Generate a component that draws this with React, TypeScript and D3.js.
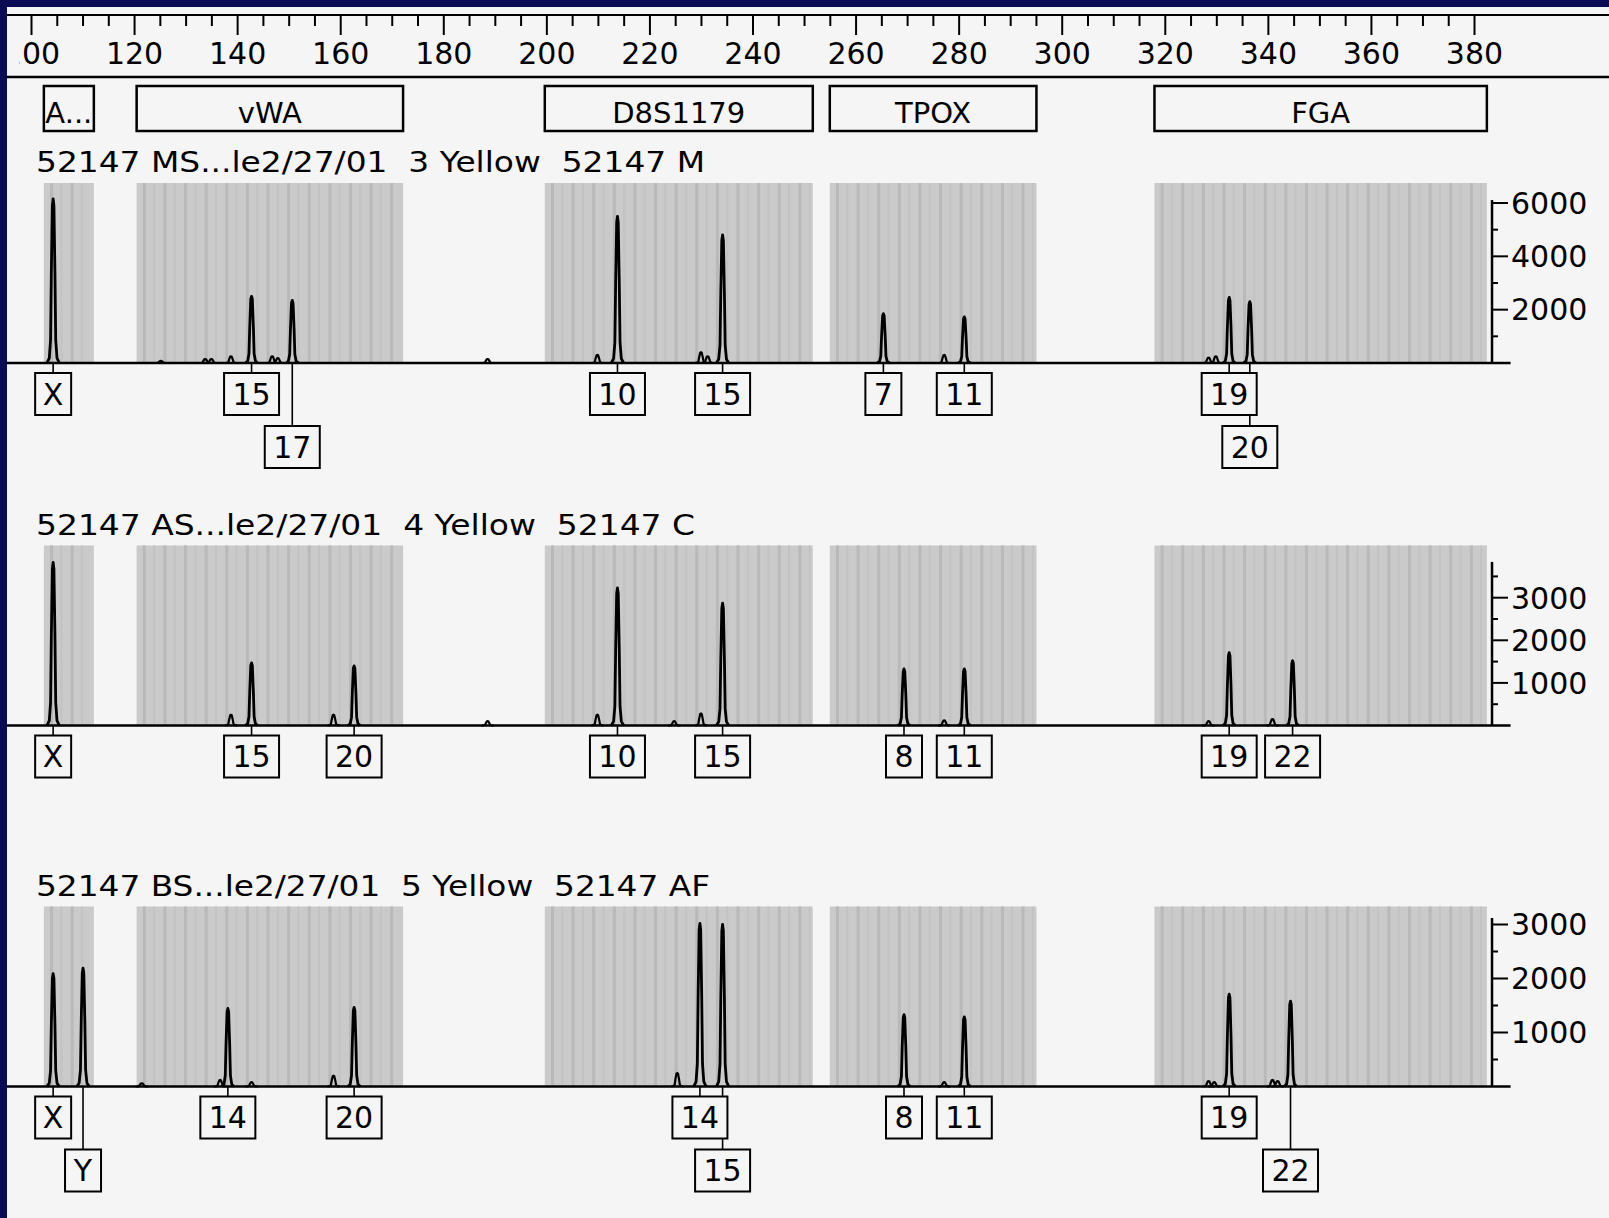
import React from "react";
import * as d3 from "d3";

// fragment size axis (bp)
const sizeLabels = [100, 120, 140, 160, 180, 200, 220, 240, 260, 280, 300, 320, 340, 360, 380];

// marker bins
const markerNames = ["A...", "vWA", "D8S1179", "TPOX", "FGA"];
const markerStart = [102.4, 120.4, 199.6, 254.9, 317.9];
const markerEnd = [112.1, 172.1, 251.6, 295.0, 382.4];

const sampleTitles = [
  "52147 MS...le2/27/01  3 Yellow  52147 M",
  "52147 AS...le2/27/01  4 Yellow  52147 C",
  "52147 BS...le2/27/01  5 Yellow  52147 AF",
];

// called alleles: [size bp, height rfu, label, label row]
const alleles1 = [
  [104.2, 6150, "X", 0],
  [142.7, 2500, "15", 0],
  [150.6, 2350, "17", 1],
  [213.7, 5500, "10", 0],
  [234.1, 4800, "15", 0],
  [265.3, 1850, "7", 0],
  [281.0, 1730, "11", 0],
  [332.4, 2460, "19", 0],
  [336.4, 2300, "20", 1],
];
const alleles2 = [
  [104.2, 3830, "X", 0],
  [142.7, 1470, "15", 0],
  [162.6, 1400, "20", 0],
  [213.7, 3230, "10", 0],
  [234.1, 2870, "15", 0],
  [269.3, 1330, "8", 0],
  [281.0, 1330, "11", 0],
  [332.4, 1710, "19", 0],
  [344.7, 1520, "22", 0],
];
const alleles3 = [
  [104.2, 2090, "X", 0],
  [110.0, 2190, "Y", 1],
  [138.1, 1445, "14", 0],
  [162.6, 1465, "20", 0],
  [229.7, 3020, "14", 0],
  [234.1, 3000, "15", 1],
  [269.3, 1330, "8", 0],
  [281.0, 1290, "11", 0],
  [332.4, 1710, "19", 0],
  [344.3, 1580, "22", 1],
];

// small stutter / noise peaks: [size bp, height rfu]
const minor1 = [
  [125.1, 80], [133.7, 150], [134.9, 150], [138.7, 250], [146.7, 250], [147.8, 180],
  [188.5, 150], [209.8, 300], [229.9, 400], [231.2, 250], [277.1, 300], [328.4, 200], [329.8, 250],
];
const minor2 = [
  [138.7, 250], [158.6, 250], [188.5, 100], [209.8, 250], [224.7, 100], [229.9, 280],
  [277.1, 120], [328.4, 100], [340.8, 150],
];
const minor3 = [
  [121.4, 60], [136.6, 120], [142.7, 80], [158.6, 200], [225.3, 250], [277.1, 80],
  [328.4, 100], [329.5, 80], [340.8, 120], [341.8, 100],
];

// rfu axis per panel
const majorTicks = [[2000, 4000, 6000], [1000, 2000, 3000], [1000, 2000, 3000]];
const minorTicks = [[1000, 3000, 5000], [500, 1500, 2500, 3500], [500, 1500, 2500]];
const axisTop = [6110, 3840, 3120];
const scaleMax = [6000, 3000, 3000];

const W = 1609;
const H = 1218;
const FONT = "'DejaVu Sans', Verdana, sans-serif";
const BG = "#f5f5f5";
const baselines = [363, 725.5, 1086.5];
const scaleTopPx = [203, 597.7, 924.5];
const titleWidths = [669, 659, 674];

const x = d3.scaleLinear().domain([100, 380]).range([31.5, 1474.5]);
const axisBp = 383.4;
const baseEndBp = 387;

// relative peak outline: [bp offset, fraction of height]
const peakShape = [
  [-1.2, 0], [-0.75, 0.03], [-0.5, 0.14], [-0.35, 0.55], [-0.15, 0.96], [0, 1],
  [0.15, 0.96], [0.35, 0.55], [0.5, 0.14], [0.75, 0.03], [1.2, 0],
];

const line = d3.line();

function peakPath(p, h, y) {
  return line(peakShape.map(([dx, f]) => [x(p + dx), y(h * f)]));
}

function Panel({ i, alleles, minor }) {
  const base = baselines[i];
  const y = d3.scaleLinear().domain([0, scaleMax[i]]).range([base, scaleTopPx[i]]);
  const grayTop = base - 180;
  const ax = x(axisBp);
  return (
    <g>
      <text
        x={36}
        y={grayTop - 11}
        fontFamily={FONT}
        fontSize={28}
        textLength={titleWidths[i]}
        lengthAdjust="spacingAndGlyphs"
        style={{ whiteSpace: "pre" }}
      >
        {sampleTitles[i]}
      </text>
      {markerNames.map((m, k) => (
        <g key={m}>
          <rect
            x={x(markerStart[k])}
            y={grayTop}
            width={x(markerEnd[k]) - x(markerStart[k])}
            height={base - grayTop}
            fill="#cacaca"
          />
          {d3.range(markerStart[k] + 1.2, markerEnd[k] - 0.5, 2).map((b, j) => (
            <rect
              key={j}
              x={x(b)}
              y={grayTop}
              width={j % 2 ? 2 : 3}
              height={base - grayTop}
              fill={j % 2 ? "#c3c3c3" : "#b9b9b9"}
            />
          ))}
        </g>
      ))}
      <line x1={7} x2={x(baseEndBp)} y1={base} y2={base} stroke="#000" strokeWidth={2.5} />
      {minor.map(([p, h], k) => (
        <path key={"m" + k} d={peakPath(p, h, y)} fill="none" stroke="#000" strokeWidth={2.2} />
      ))}
      {alleles.map(([p, h], k) => (
        <path key={"a" + k} d={peakPath(p, h, y)} fill="none" stroke="#000" strokeWidth={2.8} strokeLinejoin="round" />
      ))}
      {/* right rfu axis */}
      <line x1={ax} x2={ax} y1={base} y2={y(axisTop[i])} stroke="#000" strokeWidth={2.5} />
      {minorTicks[i].map((t) => (
        <line key={t} x1={ax} x2={ax + 6} y1={y(t)} y2={y(t)} stroke="#000" strokeWidth={2} />
      ))}
      {majorTicks[i].map((t) => (
        <g key={t}>
          <line x1={ax} x2={ax + 16} y1={y(t)} y2={y(t)} stroke="#000" strokeWidth={2} />
          <text x={ax + 19} y={y(t)} dy="0.36em" fontFamily={FONT} fontSize={30}>
            {t}
          </text>
        </g>
      ))}
      {/* allele labels */}
      {alleles.map(([p, , label, row], k) => {
        const top = base + (row ? 63 : 10);
        return (
          <line key={"c" + k} x1={x(p)} x2={x(p)} y1={base} y2={top} stroke="#000" strokeWidth={1.6} />
        );
      })}
      {alleles.map(([p, , label, row], k) => {
        const w = String(label).length > 1 ? 55 : 36;
        const top = base + (row ? 63 : 10);
        return (
          <g key={"b" + k}>
            <rect x={x(p) - w / 2} y={top} width={w} height={42} fill={BG} stroke="#000" strokeWidth={2} />
            <text
              x={x(p)}
              y={top + 21}
              dy="0.36em"
              textAnchor="middle"
              fontFamily={FONT}
              fontSize={30}
            >
              {label}
            </text>
          </g>
        );
      })}
    </g>
  );
}

export default function App() {
  const ticks = d3.range(100, 381, 5);
  return (
    <svg
      width={W}
      height={H}
      style={{ position: "absolute", left: 0, top: 0, display: "block" }}
    >
      <defs>
        <clipPath id="topclip">
          <rect x={19} y={0} width={W} height={90} />
        </clipPath>
      </defs>
      <rect width={W} height={H} fill={BG} />
      {/* size axis */}
      <line x1={7} x2={W} y1={15} y2={15} stroke="#000" strokeWidth={2} />
      {ticks.map((t) => (
        <line
          key={t}
          x1={x(t)}
          x2={x(t)}
          y1={15}
          y2={t % 20 === 0 ? 35 : 26}
          stroke="#000"
          strokeWidth={2}
        />
      ))}
      <g clipPath="url(#topclip)">
        {sizeLabels.map((t) => (
          <text key={t} x={x(t)} y={53} dy="0.36em" textAnchor="middle" fontFamily={FONT} fontSize={30}>
            {t}
          </text>
        ))}
      </g>
      <line x1={7} x2={W} y1={77} y2={77} stroke="#000" strokeWidth={2.5} />
      {/* marker bins */}
      {markerNames.map((m, k) => (
        <g key={m}>
          <rect
            x={x(markerStart[k])}
            y={86}
            width={x(markerEnd[k]) - x(markerStart[k])}
            height={45}
            fill="none"
            stroke="#000"
            strokeWidth={2.5}
          />
          <text
            x={(x(markerStart[k]) + x(markerEnd[k])) / 2}
            y={113}
            dy="0.36em"
            textAnchor="middle"
            fontFamily={FONT}
            fontSize={29}
          >
            {m}
          </text>
        </g>
      ))}
      <Panel i={0} alleles={alleles1} minor={minor1} />
      <Panel i={1} alleles={alleles2} minor={minor2} />
      <Panel i={2} alleles={alleles3} minor={minor3} />
      {/* window frame */}
      <rect x={0} y={0} width={W} height={7} fill="#0b0b55" />
      <rect x={0} y={0} width={7} height={H} fill="#0b0b55" />
    </svg>
  );
}
